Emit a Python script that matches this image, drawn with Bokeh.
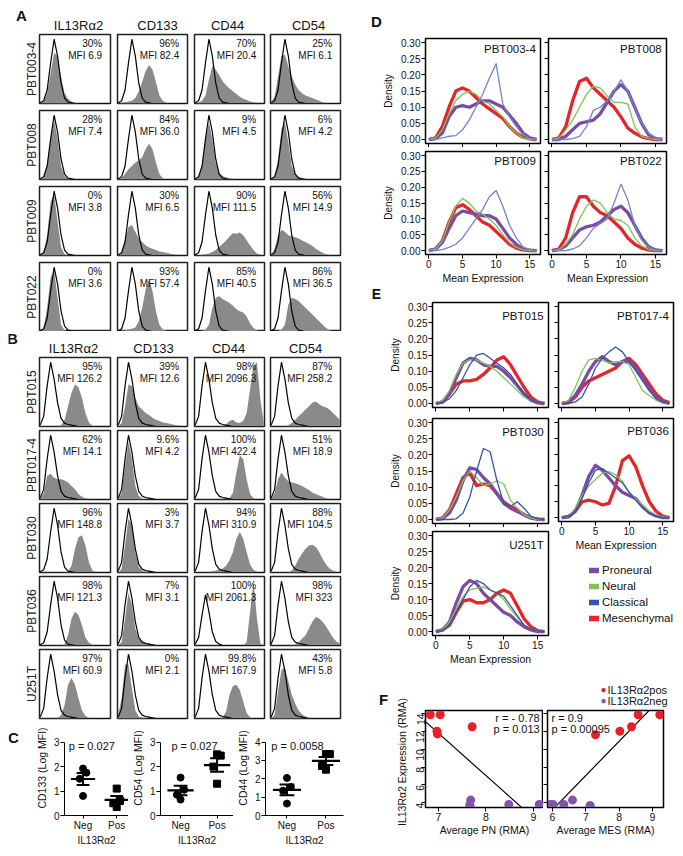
import numpy as np
from bokeh.plotting import figure
from bokeh.layouts import row, column
from bokeh.models import (Range1d, Label, Legend, LegendItem, LinearAxis, FixedTicker,
                          PrintfTickFormatter, Spacer)
from bokeh.embed import file_html
from bokeh.resources import INLINE

FONT = "Liberation Sans"

# ------------------------------------------------------------------ data: flow histograms (A, B)
markers = ["IL13Rα2", "CD133", "CD44", "CD54"]
hist_bins = list(range(21))   # log-intensity bins

ctrl_a = [0.01, 0.04, 0.2, 0.6, 0.95, 0.7, 0.3, 0.08, 0.02, 0.01, 0, 0, 0, 0, 0, 0, 0, 0, 0, 0, 0]
ctrl_b = [0.02, 0.15, 0.6, 0.95, 0.7, 0.35, 0.12, 0.05, 0.03, 0.02, 0.01, 0, 0, 0, 0, 0, 0, 0, 0, 0, 0]
ctrl_c = [0.02, 0.12, 0.45, 0.75, 0.5, 0.2, 0.06, 0.02, 0, 0, 0, 0, 0, 0, 0, 0, 0, 0, 0, 0, 0]

samples_A = ["PBT003-4", "PBT008", "PBT009", "PBT022"]
samples_B = ["PBT015", "PBT017-4", "PBT030", "PBT036", "U251T"]

hist_PBT003_4 = [
    [0, 0.03, 0.15, 0.45, 0.75, 0.7, 0.4, 0.15, 0.07, 0.03, 0.01, 0, 0, 0, 0, 0, 0, 0, 0, 0, 0],
    [0, 0.01, 0.02, 0.03, 0.04, 0.08, 0.18, 0.32, 0.48, 0.57, 0.5, 0.32, 0.12, 0.04, 0.01, 0, 0, 0, 0, 0, 0],
    [0, 0.01, 0.04, 0.12, 0.35, 0.55, 0.5, 0.42, 0.33, 0.27, 0.22, 0.18, 0.14, 0.1, 0.07, 0.05, 0.03, 0.02, 0.01, 0, 0],
    [0.02, 0.1, 0.4, 0.7, 0.72, 0.55, 0.4, 0.28, 0.2, 0.15, 0.12, 0.1, 0.08, 0.06, 0.04, 0.02, 0.01, 0, 0, 0, 0]]
hist_PBT008 = [
    [0, 0.03, 0.2, 0.6, 0.88, 0.6, 0.2, 0.05, 0.01, 0, 0, 0, 0, 0, 0, 0, 0, 0, 0, 0, 0],
    [0, 0.02, 0.08, 0.15, 0.2, 0.25, 0.28, 0.33, 0.45, 0.53, 0.45, 0.25, 0.08, 0.02, 0, 0, 0, 0, 0, 0, 0],
    [0, 0.03, 0.2, 0.6, 0.85, 0.6, 0.25, 0.1, 0.05, 0.03, 0.02, 0.01, 0, 0, 0, 0, 0, 0, 0, 0, 0],
    [0, 0.05, 0.3, 0.75, 0.85, 0.55, 0.2, 0.08, 0.04, 0.02, 0.01, 0, 0, 0, 0, 0, 0, 0, 0, 0, 0]]
hist_PBT009 = [
    [0, 0.05, 0.3, 0.8, 0.9, 0.5, 0.12, 0.02, 0, 0, 0, 0, 0, 0, 0, 0, 0, 0, 0, 0, 0],
    [0, 0.05, 0.25, 0.42, 0.45, 0.35, 0.25, 0.2, 0.15, 0.12, 0.1, 0.08, 0.06, 0.05, 0.04, 0.03, 0.02, 0.01, 0, 0, 0],
    [0, 0, 0.01, 0.02, 0.03, 0.05, 0.08, 0.13, 0.17, 0.22, 0.28, 0.33, 0.32, 0.34, 0.3, 0.22, 0.15, 0.08, 0.03, 0.01, 0],
    [0, 0.1, 0.3, 0.38, 0.35, 0.3, 0.28, 0.27, 0.25, 0.22, 0.2, 0.17, 0.14, 0.1, 0.07, 0.04, 0.02, 0.01, 0, 0, 0]]
hist_PBT022 = [
    [0, 0.05, 0.35, 0.8, 0.9, 0.5, 0.1, 0.02, 0, 0, 0, 0, 0, 0, 0, 0, 0, 0, 0, 0, 0],
    [0, 0.01, 0.02, 0.03, 0.04, 0.06, 0.15, 0.35, 0.62, 0.77, 0.6, 0.3, 0.1, 0.03, 0.01, 0, 0, 0, 0, 0, 0],
    [0, 0, 0.01, 0.03, 0.1, 0.35, 0.5, 0.52, 0.48, 0.45, 0.42, 0.38, 0.33, 0.3, 0.28, 0.22, 0.12, 0.05, 0.02, 0, 0],
    [0, 0, 0.01, 0.03, 0.1, 0.4, 0.5, 0.48, 0.45, 0.4, 0.35, 0.3, 0.25, 0.2, 0.15, 0.1, 0.05, 0.02, 0, 0, 0]]
hist_PBT015 = [
    [0, 0, 0, 0, 0, 0, 0.02, 0.1, 0.3, 0.5, 0.62, 0.58, 0.42, 0.2, 0.06, 0.01, 0, 0, 0, 0, 0],
    [0, 0.05, 0.3, 0.62, 0.6, 0.42, 0.3, 0.25, 0.2, 0.17, 0.13, 0.1, 0.08, 0.06, 0.05, 0.04, 0.03, 0.02, 0.01, 0, 0],
    [0, 0, 0, 0, 0, 0, 0, 0, 0.01, 0.03, 0.08, 0.1, 0.06, 0.05, 0.08, 0.2, 0.55, 0.9, 0.95, 0.4, 0.05],
    [0, 0, 0, 0, 0, 0.02, 0.05, 0.1, 0.15, 0.2, 0.25, 0.3, 0.35, 0.37, 0.33, 0.3, 0.28, 0.25, 0.2, 0.15, 0.1]]
hist_PBT017_4 = [
    [0, 0.1, 0.35, 0.38, 0.32, 0.3, 0.3, 0.28, 0.25, 0.2, 0.15, 0.08, 0.04, 0.02, 0.01, 0, 0, 0, 0, 0, 0],
    [0, 0.1, 0.5, 0.85, 0.6, 0.2, 0.05, 0.01, 0, 0, 0, 0, 0, 0, 0, 0, 0, 0, 0, 0, 0],
    [0, 0, 0, 0, 0, 0, 0, 0, 0, 0, 0.02, 0.1, 0.4, 0.65, 0.6, 0.3, 0.08, 0.02, 0, 0, 0],
    [0, 0.1, 0.3, 0.4, 0.32, 0.27, 0.25, 0.24, 0.22, 0.2, 0.17, 0.14, 0.1, 0.08, 0.06, 0.04, 0.02, 0.01, 0, 0, 0]]
hist_PBT030 = [
    [0, 0, 0, 0, 0, 0, 0, 0, 0.02, 0.1, 0.35, 0.52, 0.55, 0.4, 0.15, 0.03, 0.01, 0, 0, 0, 0],
    [0, 0.05, 0.4, 0.8, 0.7, 0.3, 0.08, 0.03, 0.01, 0, 0, 0, 0, 0, 0, 0, 0, 0, 0, 0, 0],
    [0, 0, 0, 0, 0, 0.02, 0.03, 0.04, 0.06, 0.1, 0.18, 0.3, 0.5, 0.6, 0.5, 0.3, 0.12, 0.04, 0.01, 0, 0],
    [0, 0, 0, 0, 0, 0, 0.03, 0.1, 0.2, 0.28, 0.35, 0.4, 0.41, 0.38, 0.3, 0.2, 0.12, 0.06, 0.03, 0.01, 0]]
hist_PBT036 = [
    [0, 0, 0, 0, 0, 0, 0, 0.02, 0.15, 0.4, 0.5, 0.45, 0.3, 0.12, 0.04, 0.01, 0, 0, 0, 0, 0],
    [0, 0.05, 0.4, 0.78, 0.6, 0.25, 0.1, 0.06, 0.04, 0.03, 0.02, 0.01, 0, 0, 0, 0, 0, 0, 0, 0, 0],
    [0, 0, 0, 0, 0, 0, 0, 0, 0, 0, 0, 0, 0, 0, 0, 0.05, 0.5, 0.95, 0.4, 0.03, 0],
    [0, 0, 0, 0, 0, 0, 0, 0.02, 0.05, 0.1, 0.15, 0.25, 0.35, 0.42, 0.4, 0.35, 0.28, 0.2, 0.12, 0.06, 0.03]]
hist_U251T = [
    [0, 0, 0, 0, 0, 0, 0.05, 0.2, 0.5, 0.6, 0.5, 0.3, 0.12, 0.04, 0.01, 0, 0, 0, 0, 0, 0],
    [0.05, 0.3, 0.8, 0.8, 0.45, 0.12, 0.03, 0.01, 0, 0, 0, 0, 0, 0, 0, 0, 0, 0, 0, 0, 0],
    [0, 0, 0, 0, 0, 0, 0, 0, 0.02, 0.1, 0.35, 0.48, 0.5, 0.42, 0.25, 0.08, 0.02, 0, 0, 0, 0],
    [0, 0.05, 0.4, 0.72, 0.75, 0.55, 0.35, 0.22, 0.12, 0.06, 0.03, 0.01, 0, 0, 0, 0, 0, 0, 0, 0, 0]]

pct_A = [["30%", "96%", "70%", "25%"], ["28%", "84%", "9%", "6%"],
         ["0%", "30%", "90%", "56%"], ["0%", "93%", "85%", "86%"]]
mfi_A = [["MFI 6.9", "MFI 82.4", "MFI 20.4", "MFI 6.1"], ["MFI 7.4", "MFI 36.0", "MFI 4.5", "MFI 4.2"],
         ["MFI 3.8", "MFI 6.5", "MFI 111.5", "MFI 14.9"], ["MFI 3.6", "MFI 57.4", "MFI 40.5", "MFI 36.5"]]
pct_B = [["95%", "39%", "98%", "87%"], ["62%", "9.6%", "100%", "51%"], ["96%", "3%", "94%", "88%"],
         ["98%", "7%", "100%", "98%"], ["97%", "0%", "99.8%", "43%"]]
mfi_B = [["MFI 126.2", "MFI 12.6", "MFI 2096.3", "MFI 258.2"], ["MFI 14.1", "MFI 4.2", "MFI 422.4", "MFI 18.9"],
         ["MFI 148.8", "MFI 3.7", "MFI 310.9", "MFI 104.5"], ["MFI 121.3", "MFI 3.1", "MFI 2061.3", "MFI 323"],
         ["MFI 60.9", "MFI 2.1", "MFI 167.9", "MFI 5.8"]]

# ------------------------------------------------------------------ data: panel C
c_cd133_neg = [1.92, 1.75, 1.5, 0.8]
c_cd133_pos = [1.1, 0.6, 0.5, 0.35]
c_cd54_neg = [1.55, 1.05, 0.85, 0.65]
c_cd54_pos = [2.5, 2.45, 2.0, 1.3]
c_cd44_neg = [2.05, 1.55, 1.35, 0.65]
c_cd44_pos = [3.35, 3.35, 2.7, 2.5]
c_jitter = [0.0, 0.1, -0.1, 0.0]
c_groups = ["Neg", "Pos"]

# ------------------------------------------------------------------ data: panels D, E (density)
subtypes = ["Proneural", "Neural", "Classical", "Mesenchymal"]
expr_grid = list(range(17))
dens_yticks = [0.0, 0.05, 0.10, 0.15, 0.20, 0.25, 0.30]
dens_xticks = [0, 5, 10, 15]
# order: proneural, neural, classical, mesenchymal
dens_PBT003_4 = [
    [0, 0.003, 0.02, 0.07, 0.10, 0.105, 0.10, 0.11, 0.12, 0.12, 0.11, 0.10, 0.075, 0.05, 0.02, 0.005, 0],
    [0, 0.005, 0.03, 0.08, 0.12, 0.14, 0.15, 0.14, 0.12, 0.11, 0.09, 0.07, 0.04, 0.02, 0.005, 0, 0],
    [0, 0, 0.005, 0.01, 0.012, 0.03, 0.06, 0.10, 0.14, 0.19, 0.235, 0.11, 0.07, 0.04, 0.015, 0.003, 0],
    [0, 0.005, 0.04, 0.10, 0.15, 0.16, 0.15, 0.13, 0.11, 0.095, 0.08, 0.065, 0.04, 0.02, 0.007, 0.002, 0]]
dens_PBT008 = [
    [0, 0, 0.01, 0.03, 0.05, 0.055, 0.06, 0.08, 0.115, 0.15, 0.17, 0.15, 0.10, 0.05, 0.015, 0.003, 0],
    [0, 0.005, 0.03, 0.06, 0.10, 0.14, 0.165, 0.16, 0.135, 0.115, 0.115, 0.11, 0.04, 0.01, 0.003, 0, 0],
    [0, 0, 0, 0.003, 0.01, 0.04, 0.09, 0.10, 0.12, 0.15, 0.185, 0.15, 0.10, 0.05, 0.02, 0.005, 0],
    [0, 0.005, 0.04, 0.12, 0.18, 0.19, 0.16, 0.14, 0.12, 0.10, 0.07, 0.035, 0.02, 0.008, 0.003, 0, 0]]
dens_PBT009 = [
    [0, 0.005, 0.025, 0.07, 0.11, 0.125, 0.12, 0.115, 0.11, 0.11, 0.10, 0.07, 0.04, 0.02, 0.005, 0.001, 0],
    [0, 0.005, 0.03, 0.09, 0.14, 0.165, 0.15, 0.125, 0.115, 0.10, 0.08, 0.05, 0.025, 0.01, 0.003, 0, 0],
    [0, 0, 0.003, 0.01, 0.02, 0.04, 0.07, 0.10, 0.13, 0.17, 0.19, 0.14, 0.08, 0.04, 0.012, 0.003, 0],
    [0, 0.005, 0.03, 0.09, 0.135, 0.145, 0.13, 0.11, 0.09, 0.08, 0.06, 0.04, 0.02, 0.008, 0.002, 0, 0]]
dens_PBT022 = [
    [0, 0.003, 0.015, 0.04, 0.065, 0.075, 0.08, 0.09, 0.11, 0.13, 0.14, 0.12, 0.08, 0.04, 0.012, 0.002, 0],
    [0, 0.003, 0.02, 0.05, 0.10, 0.14, 0.16, 0.15, 0.12, 0.10, 0.095, 0.08, 0.04, 0.015, 0.004, 0, 0],
    [0, 0, 0, 0.005, 0.015, 0.04, 0.07, 0.085, 0.10, 0.15, 0.21, 0.16, 0.08, 0.035, 0.01, 0.002, 0],
    [0, 0.005, 0.04, 0.12, 0.17, 0.17, 0.14, 0.12, 0.11, 0.09, 0.07, 0.04, 0.02, 0.008, 0.002, 0, 0]]
dens_PBT015 = [
    [0, 0.005, 0.03, 0.08, 0.125, 0.14, 0.135, 0.12, 0.115, 0.115, 0.10, 0.08, 0.055, 0.03, 0.01, 0.002, 0],
    [0, 0.01, 0.04, 0.09, 0.125, 0.135, 0.135, 0.125, 0.115, 0.10, 0.08, 0.06, 0.04, 0.02, 0.008, 0.002, 0],
    [0, 0.003, 0.015, 0.04, 0.08, 0.12, 0.15, 0.155, 0.14, 0.125, 0.11, 0.09, 0.06, 0.03, 0.01, 0.003, 0],
    [0, 0.005, 0.03, 0.06, 0.07, 0.07, 0.075, 0.09, 0.11, 0.135, 0.145, 0.12, 0.085, 0.05, 0.02, 0.005, 0]]
dens_PBT017_4 = [
    [0, 0.005, 0.025, 0.06, 0.10, 0.13, 0.145, 0.13, 0.12, 0.13, 0.13, 0.11, 0.08, 0.045, 0.02, 0.005, 0],
    [0, 0.01, 0.05, 0.10, 0.135, 0.14, 0.135, 0.125, 0.13, 0.13, 0.12, 0.08, 0.04, 0.025, 0.01, 0.003, 0],
    [0, 0, 0.005, 0.02, 0.06, 0.11, 0.14, 0.16, 0.175, 0.16, 0.13, 0.10, 0.07, 0.04, 0.015, 0.004, 0],
    [0, 0.003, 0.02, 0.05, 0.07, 0.08, 0.09, 0.10, 0.11, 0.13, 0.14, 0.12, 0.09, 0.06, 0.03, 0.01, 0.003]]
dens_PBT030 = [
    [0, 0.003, 0.02, 0.06, 0.12, 0.16, 0.155, 0.13, 0.11, 0.08, 0.05, 0.035, 0.025, 0.015, 0.005, 0.001, 0],
    [0, 0.005, 0.03, 0.07, 0.12, 0.15, 0.13, 0.105, 0.11, 0.12, 0.11, 0.06, 0.035, 0.015, 0.005, 0, 0],
    [0, 0, 0, 0.002, 0.02, 0.07, 0.15, 0.22, 0.21, 0.12, 0.05, 0.04, 0.055, 0.035, 0.01, 0.002, 0],
    [0, 0.005, 0.03, 0.08, 0.13, 0.145, 0.105, 0.11, 0.105, 0.08, 0.055, 0.04, 0.03, 0.015, 0.005, 0.001, 0]]
dens_PBT036 = [
    [0, 0.003, 0.02, 0.07, 0.13, 0.165, 0.15, 0.125, 0.10, 0.08, 0.07, 0.06, 0.035, 0.015, 0.005, 0, 0],
    [0, 0.003, 0.03, 0.07, 0.10, 0.12, 0.14, 0.145, 0.135, 0.115, 0.08, 0.06, 0.04, 0.02, 0.008, 0.002, 0],
    [0, 0.003, 0.02, 0.06, 0.11, 0.15, 0.155, 0.14, 0.125, 0.11, 0.08, 0.055, 0.03, 0.015, 0.005, 0, 0],
    [0, 0.003, 0.02, 0.05, 0.055, 0.05, 0.04, 0.045, 0.10, 0.18, 0.195, 0.16, 0.10, 0.05, 0.02, 0.005, 0]]
dens_U251T = [
    [0, 0.005, 0.03, 0.09, 0.14, 0.16, 0.15, 0.12, 0.10, 0.08, 0.06, 0.05, 0.03, 0.015, 0.005, 0, 0],
    [0, 0.005, 0.03, 0.07, 0.11, 0.13, 0.135, 0.14, 0.13, 0.12, 0.10, 0.07, 0.045, 0.02, 0.007, 0.001, 0],
    [0, 0.003, 0.02, 0.06, 0.10, 0.14, 0.16, 0.15, 0.13, 0.12, 0.11, 0.08, 0.05, 0.02, 0.007, 0.001, 0],
    [0, 0.005, 0.02, 0.06, 0.095, 0.10, 0.09, 0.09, 0.10, 0.12, 0.13, 0.12, 0.08, 0.04, 0.015, 0.003, 0]]

# ------------------------------------------------------------------ data: panel F
f_yticks = [4, 6, 8, 10, 12, 14]
f_groups = ["IL13Rα2pos", "IL13Rα2neg"]
pn_pos_x = [6.83, 7.04, 6.97, 6.98, 7.71]
pn_pos_y = [13.85, 13.85, 12.0, 11.7, 12.5]
pn_neg_x = [7.68, 7.66, 7.67, 8.48, 9.12]
pn_neg_y = [4.3, 3.75, 3.55, 3.8, 3.8]
mes_pos_x = [7.29, 8.02, 8.37, 8.57, 9.22]
mes_pos_y = [11.6, 12.0, 12.5, 13.85, 13.85]
mes_neg_x = [5.92, 6.02, 6.34, 6.6, 7.13, 7.13]
mes_neg_y = [3.8, 3.8, 3.8, 4.3, 3.7, 3.5]
fit_pn = (-4.75, 45.04)     # slope, intercept
fit_mes = (3.83, -19.76)
stats_pn = ["r = - 0.78", "p = 0.013"]
stats_mes = ["r = 0.9", "p = 0.00095"]

# ------------------------------------------------------------------ styling
PURPLE = "#7D4BA3"
GREEN = "#7CC45A"
BLUE_D = "#7085C8"
BLUE_E = "#3553AA"
RED = "#E4262B"
F_RED = "#E8202A"
F_PURPLE = "#8454AC"
GRAY = "#8a8a8a"


def base_fig(w, h, xr, yr, lb, rb, tb, bb):
    p = figure(width=w, height=h, x_range=xr, y_range=yr, x_axis_type=None, y_axis_type=None,
               output_backend="svg", toolbar_location=None,
               min_border_left=lb, min_border_right=rb, min_border_top=tb, min_border_bottom=bb)
    p.background_fill_color = "white"
    p.border_fill_color = "white"
    return p


def style_axis(ax, labels, ticks, size="10px"):
    ax.axis_line_color = "black"
    ax.axis_line_width = 1
    ax.major_tick_line_color = "black"
    ax.major_tick_out = 4
    ax.major_tick_in = 0
    ax.minor_tick_line_color = None
    ax.major_label_text_font = FONT
    ax.major_label_text_color = "#111"
    ax.axis_label_text_font = FONT
    ax.axis_label_text_font_style = "normal"
    ax.axis_label_text_color = "#111"
    if labels:
        ax.major_label_text_font_size = size
        ax.major_label_standoff = 1
    else:
        ax.major_label_text_font_size = "0px"
        ax.major_label_standoff = 0
        ax.major_label_overrides = {t: "" for t in ticks}


def label(text, x, y, size="10px", align="left", bold=False, color="#111", angle=0.0):
    return Label(x=x, y=y, text=text, text_font=FONT, angle=angle,
                 text_font_size=size, text_align=align, text_baseline="middle",
                 text_font_style="bold" if bold else "normal", text_color=color)


def strip(w, h, items, tb=0, bb=0, lb=0, rb=0):
    # a text-only band; its data units are pixels of its own frame
    p = base_fig(w, h, Range1d(0, w - lb - rb), Range1d(0, h - tb - bb), lb, rb, tb, bb)
    p.outline_line_color = None
    for it in items:
        x, y, t, size, bold = it[:5]
        align = it[5] if len(it) > 5 else "center"
        color = it[6] if len(it) > 6 else "#111"
        angle = it[7] if len(it) > 7 else 0.0
        p.add_layout(label(t, x, y, size=size, align=align, bold=bold, color=color, angle=angle))
    return p


# column geometry for histogram grid: (left border, frame width, right border)
HCOLS = [(31, 71, 3), (4, 70, 3), (4, 70, 2), (4, 70, 10)]


def hist_row(name, grays, ctrls, pcts, mfis, tb, fh, bb, ty1, ty2):
    figs = []
    for j in range(4):
        lb, fw, rb = HCOLS[j]
        p = base_fig(lb + fw + rb, tb + fh + bb, Range1d(-0.2, 20.2), Range1d(0, 1.02), lb, rb, tb, bb)
        p.outline_line_color = "#222"
        p.outline_line_width = 1.5
        p.varea(x=hist_bins, y1=0, y2=grays[j], fill_color=GRAY)
        p.line(hist_bins, ctrls[j], line_color="black", line_width=1.2)
        p.add_layout(label(pcts[j], 17.8, ty1, size="10px", align="right"))
        p.add_layout(label(mfis[j], 17.8, ty2, size="10px", align="right"))
        if j == 0:
            ax = LinearAxis(ticker=FixedTicker(ticks=[]), axis_label=name)
            ax.axis_line_color = None
            ax.major_tick_line_color = None
            ax.minor_tick_line_color = None
            ax.major_label_text_font_size = "0px"
            ax.major_label_standoff = 0
            ax.axis_label_standoff = 1
            ax.axis_label_text_font = FONT
            ax.axis_label_text_font_size = "12px"
            ax.axis_label_text_font_style = "normal"
            ax.axis_label_text_color = "#222"
            p.add_layout(ax, "left")
        figs.append(p)
    return row(*figs)


def dens_fig(series, title, blue, lb, fw, rb, tb, fh, bb, ylab, xlab, title_y=0.282):
    p = base_fig(lb + fw + rb, tb + fh + bb, Range1d(-0.5, 16.6), Range1d(-0.0124, 0.313), lb, rb, tb, bb)
    p.outline_line_color = "black"
    p.outline_line_width = 1.5
    yax = LinearAxis(ticker=FixedTicker(ticks=dens_yticks), formatter=PrintfTickFormatter(format="%.2f"))
    style_axis(yax, ylab, dens_yticks)
    if ylab:
        yax.axis_label = "Density"
        yax.axis_label_text_font_size = "10px"
        yax.axis_label_standoff = 4
    p.add_layout(yax, "left")
    xax = LinearAxis(ticker=FixedTicker(ticks=dens_xticks))
    style_axis(xax, xlab, dens_xticks)
    if xlab:
        xax.axis_label = "Mean Expression"
        xax.axis_label_text_font_size = "10.5px"
        xax.axis_label_standoff = 1
    p.add_layout(xax, "below")
    pro, neu, cla, mes = series
    p.line(expr_grid, mes, line_color=RED, line_width=3.3, line_join="round")
    p.line(expr_grid, pro, line_color=PURPLE, line_width=3.3, line_join="round")
    p.line(expr_grid, neu, line_color=GREEN, line_width=1.3, line_join="round")
    p.line(expr_grid, cla, line_color=blue, line_width=1.3, line_join="round")
    p.add_layout(label(title, 15.9, title_y, size="11.5px", align="right"))
    return p


C_FRAME_H = 101
C_BB = 27


def c_fig(neg, pos, px_per_unit, yticks, ylabel, ptext, px, py, lb, fw, rb):
    ytop = C_FRAME_H / px_per_unit
    p = base_fig(lb + fw + rb, C_FRAME_H + C_BB, Range1d(0.45, 0.45 + fw / 40.0), Range1d(0, ytop),
                 lb, rb, 0, C_BB)
    p.outline_line_color = None
    yax = LinearAxis(ticker=FixedTicker(ticks=yticks), axis_label=ylabel, bounds=(yticks[0], yticks[-1]))
    style_axis(yax, True, yticks)
    yax.axis_label_text_font_size = "10.5px"
    yax.axis_label_standoff = 3
    p.add_layout(yax, "left")
    xax = LinearAxis(ticker=FixedTicker(ticks=[1, 2]), axis_label="IL13Rα2",
                     major_label_overrides={1: c_groups[0], 2: c_groups[1]})
    style_axis(xax, True, [1, 2])
    xax.major_tick_out = 3
    xax.axis_label_standoff = 1
    xax.axis_label_text_font_size = "10px"
    p.add_layout(xax, "below")
    for k, (vals, marker) in enumerate([(neg, "circle"), (pos, "square")]):
        xc = k + 1
        xs = [xc + j for j in c_jitter]
        p.scatter(xs, vals, marker=marker, size=7, color="black")
        m = float(np.mean(vals))
        s = float(np.std(vals, ddof=1) / np.sqrt(len(vals)))
        p.segment(x0=[xc - 0.36], y0=[m], x1=[xc + 0.36], y1=[m], line_color="black", line_width=2.2)
        p.segment(x0=[xc - 0.19, xc - 0.19, xc], y0=[m + s, m - s, m - s],
                  x1=[xc + 0.19, xc + 0.19, xc], y1=[m + s, m - s, m + s],
                  line_color="black", line_width=2)
    p.add_layout(label(ptext, px, py, size="11px"))
    return p


F_TB, F_FH, F_BB = 3, 103, 25


def f_fig(pos_x, pos_y, neg_x, neg_y, fit, xr, xticks, xlabel, lb, fw, rb, ylab, stats, sx, salign):
    p = base_fig(lb + fw + rb, F_TB + F_FH + F_BB, Range1d(*xr), Range1d(3.47, 14.32), lb, rb, F_TB, F_BB)
    p.outline_line_color = "black"
    p.outline_line_width = 1.5
    yax = LinearAxis(ticker=FixedTicker(ticks=f_yticks))
    style_axis(yax, ylab, f_yticks, "10.5px")
    if ylab:
        yax.major_label_orientation = float(np.pi / 2)
    p.add_layout(yax, "left")
    xax = LinearAxis(ticker=FixedTicker(ticks=xticks), axis_label=xlabel)
    style_axis(xax, True, xticks, "10.5px")
    xax.axis_label_text_font_size = "10.5px"
    xax.axis_label_standoff = 0
    p.add_layout(xax, "below")
    xs = np.array(xr)
    p.line(xs, fit[0] * xs + fit[1], line_color="black", line_width=1.2)
    p.scatter(pos_x, pos_y, size=7, color=F_RED, line_width=2)
    p.scatter(neg_x, neg_y, size=7, color=F_PURPLE, line_width=2)
    p.add_layout(label(stats[0], sx, 13.48, size="11px", align=salign))
    p.add_layout(label(stats[1], sx, 12.3, size="11px", align=salign))
    return p


# ------------------------------------------------------------------ left column: A, B, C
stripA = strip(342, 24, [(13, 17, "A", "15px", True), (70, 7, markers[0], "13px", False),
                         (149, 7, markers[1], "13px", False), (219, 7, markers[2], "13px", False),
                         (300, 7, markers[3], "13px", False)])
rows_A_data = [hist_PBT003_4, hist_PBT008, hist_PBT009, hist_PBT022]
rows_A = []
a_borders = [(2, 3), (4, 3), (4, 3), (4, 0)]
for i, nm in enumerate(samples_A):
    tb, bb = a_borders[i]
    rows_A.append(hist_row(nm, rows_A_data[i], [ctrl_a] * 4, pct_A[i], mfi_A[i], tb, 69, bb, 0.885, 0.71))

stripB = strip(342, 24, [(4, 17, "B", "15px", True), (65, 7, markers[0], "13px", False),
                         (145, 7, markers[1], "13px", False), (220, 7, markers[2], "13px", False),
                         (297, 7, markers[3], "13px", False)])
rows_B_data = [hist_PBT015, hist_PBT017_4, hist_PBT030, hist_PBT036, hist_U251T]
ctrl_B = [[ctrl_b, ctrl_b, ctrl_b, ctrl_b], [ctrl_b, ctrl_b, ctrl_b, ctrl_b],
          [ctrl_a, ctrl_b, ctrl_b, ctrl_b], [ctrl_a, ctrl_b, ctrl_c, ctrl_b],
          [ctrl_b, ctrl_b, ctrl_b, ctrl_b]]
rows_B = []
for i, nm in enumerate(samples_B):
    rows_B.append(hist_row(nm, rows_B_data[i], ctrl_B[i], pct_B[i], mfi_B[i], 2, 69, 2, 0.885, 0.71))

stripC = strip(24, C_FRAME_H + C_BB, [(5, 83, "C", "15px", True)], 0, C_BB)
c1 = c_fig(c_cd133_neg, c_cd133_pos, 26.0, [0, 1, 2, 3], "CD133 (Log MFI)", "p = 0.027", 0.575, 2.85, 20, 76, 0)
c2 = c_fig(c_cd54_neg, c_cd54_pos, 26.0, [0, 1, 2, 3], "CD54 (Log MFI)", "p = 0.027", 0.75, 2.85, 25, 80, 0)
c3 = c_fig(c_cd44_neg, c_cd44_pos, 19.5, [0, 1, 2, 3, 4], "CD44 (Log MFI)", "p = 0.0058", 0.6, 3.8, 30, 80, 7)
rowC = row(stripC, c1, c2, c3)

left = column(stripA, *rows_A, stripB, *rows_B, rowC)

# ------------------------------------------------------------------ right column: D, E, F
stripD = strip(325, 26, [(26, 13, "D", "15px", True)])
d1 = dens_fig(dens_PBT003_4, "PBT003-4", BLUE_D, 75, 115, 4, 4, 105, 4, True, False)
d2 = dens_fig(dens_PBT008, "PBT008", BLUE_D, 4, 118, 9, 4, 105, 4, False, False)
d3 = dens_fig(dens_PBT009, "PBT009", BLUE_D, 75, 115, 4, 4, 105, 30, True, True)
d4 = dens_fig(dens_PBT022, "PBT022", BLUE_D, 4, 118, 9, 4, 105, 30, False, True)

stripE = strip(325, 14, [(26, 7, "E", "14px", True)])
e1 = dens_fig(dens_PBT015, "PBT015", BLUE_E, 82, 116, 4, 2, 105, 7, True, False, 0.272)
e3 = dens_fig(dens_PBT030, "PBT030", BLUE_E, 82, 116, 4, 4, 105, 4, True, False, 0.272)
e5 = dens_fig(dens_U251T, "U251T", BLUE_E, 82, 116, 4, 4, 105, 31, True, True, 0.272)
e2 = dens_fig(dens_PBT017_4, "PBT017-4", BLUE_E, 6, 115, 2, 2, 105, 7, False, False, 0.272)
e4 = dens_fig(dens_PBT036, "PBT036", BLUE_E, 6, 115, 2, 4, 105, 30, False, True, 0.272)

# legend panel: the U251T curves are drawn outside its visible window, only the key shows
leg_fig = base_fig(123, 114, Range1d(-40, -39), Range1d(0, 1), 6, 2, 0, 0)
leg_fig.outline_line_color = None
leg_items = []
for k, (nm, col) in enumerate(zip(subtypes, [PURPLE, GREEN, BLUE_E, RED])):
    r = leg_fig.line(expr_grid, dens_U251T[k], line_color=col, line_width=5.5, line_cap="round")
    leg_items.append(LegendItem(label=nm, renderers=[r]))
leg = Legend(items=leg_items, location=(31, 41), margin=0, padding=0, spacing=0,
             label_height=16, glyph_height=16, glyph_width=10, label_standoff=3,
             label_text_font=FONT, label_text_font_size="11.5px", label_text_color="#111",
             border_line_color=None, background_fill_alpha=0)
leg_fig.add_layout(leg)

rowE = row(column(e1, e3, e5), column(e2, e4, leg_fig))

# panel F: letter + rotated axis title band on the left, key band above the two plots
F_H = 40 + F_TB + F_FH + F_BB
stripFL = strip(58, F_H, [(33, F_H - 32, "F", "15px", True),
                          (51, F_H - 94.5, "IL13Rα2 Expression (RMA)", "10.5px", False, "center", "#111",
                           float(np.pi / 2))])
stripLeg = strip(267, 40, [(195, 18, "●", "10px", False, "center", F_RED),
                           (199, 18, f_groups[0], "11px", False, "left"),
                           (195, 7, "●", "10px", False, "center", F_PURPLE),
                           (199, 7, f_groups[1], "11px", False, "left")])
f1 = f_fig(pn_pos_x, pn_pos_y, pn_neg_x, pn_neg_y, fit_pn, (6.73, 9.21), [7, 8, 9], "Average PN (RMA)",
           17, 118, 0, True, stats_pn, 9.13, "right")
f2 = f_fig(mes_pos_x, mes_pos_y, mes_neg_x, mes_neg_y, fit_mes, (5.85, 9.33), [6, 7, 8, 9],
           "Average MES (RMA)", 4, 116, 12, False, stats_mes, 5.97, "left")
rowF = row(stripFL, column(stripLeg, row(f1, f2)))

right = column(stripD, row(d1, d2), row(d3, d4), stripE, rowE, rowF)

p = column(Spacer(width=675, height=8), row(Spacer(width=8, height=840), left, right))
open("out.html", "w").write(file_html(p, INLINE))
